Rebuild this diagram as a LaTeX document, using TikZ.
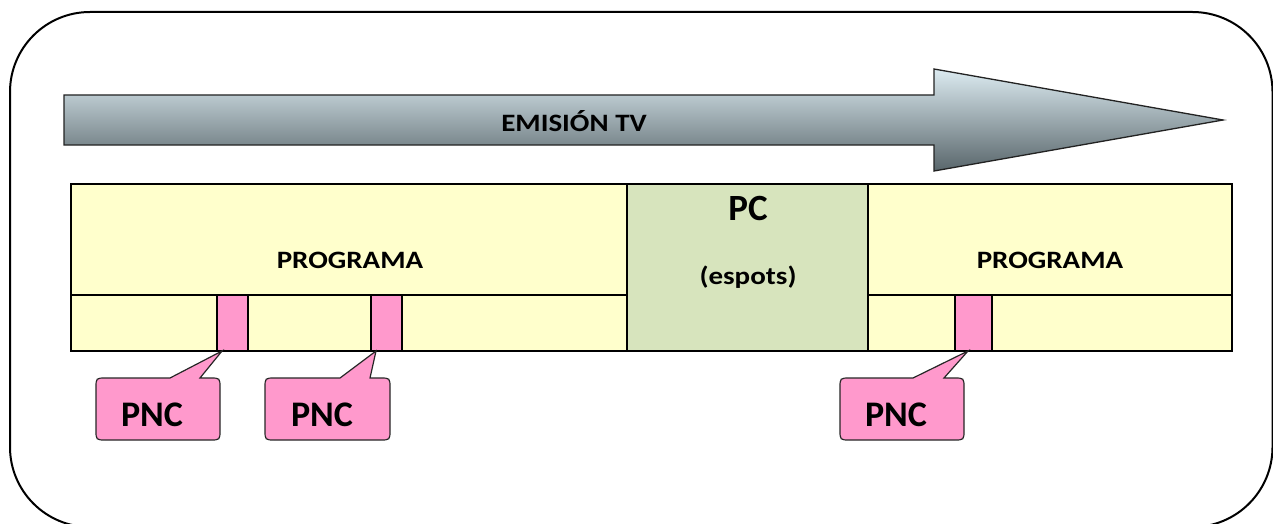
\documentclass[tikz,border=0pt]{standalone}
\usepackage{fontspec}
\setmainfont{Carlito}
\definecolor{progyellow}{HTML}{FFFFCC}
\definecolor{pcgreen}{HTML}{D7E4BD}
\definecolor{pncpink}{HTML}{FF99CC}
\definecolor{arrowtop}{HTML}{DCEBF1}
\definecolor{arrowbot}{HTML}{59666B}
\definecolor{arrowline}{HTML}{222222}
\newcommand{\wide}[1]{\scalebox{1.16}[1]{#1}}
\tikzset{
  band/.style={draw=black, line width=2pt, fill=progyellow, anchor=north west, inner sep=0pt, outer sep=0pt},
  pcbox/.style={band, fill=pcgreen},
  pncbar/.style={band, fill=pncpink},
  callout/.style={draw=black!85, line width=1.2pt, fill=pncpink},
  lbl/.style={font=\bfseries\fontsize{25}{30}\selectfont, text=black, inner sep=0pt},
  pnclbl/.style={lbl, font=\bfseries\fontsize{36}{42}\selectfont},
}
\begin{document}
\begin{tikzpicture}[x=1pt,y=-1pt]
\useasboundingbox (0,0) rectangle (1273,524);
\begin{scope}
\clip (0,0) rectangle (1273,524);
\draw[line width=2pt, rounded corners=80pt] (10,12) rectangle (1272.5,527);
\end{scope}
% big arrow
\shade[top color=arrowtop, bottom color=arrowbot, draw=arrowline, line width=1.3pt]
  (64,95) -- (934,95) -- (934,69) -- (1223,120) -- (934,171) -- (934,145) -- (64,145) -- cycle;
\node[lbl] (emision) at (574,121) {\wide{EMISIÓN TV}};
% band
\node[band, minimum width=556pt, minimum height=111pt] (prog1top) at (71,184) {};
\node[band, minimum width=556pt, minimum height=56pt] (prog1bot) at (71,295) {};
\node[pcbox, minimum width=241pt, minimum height=167pt] (pc) at (627,184) {};
\node[band, minimum width=364pt, minimum height=111pt] (prog2top) at (868,184) {};
\node[band, minimum width=364pt, minimum height=56pt] (prog2bot) at (868,295) {};
\node[pncbar, minimum width=31pt, minimum height=56pt] (p1) at (217,295) {};
\node[pncbar, minimum width=31pt, minimum height=56pt] (p2) at (371,295) {};
\node[pncbar, minimum width=37pt, minimum height=56pt] (p3) at (955,295) {};
\node[lbl] (prog1txt) at (350,260) {\wide{PROGRAMA}};
\node[lbl] (prog2txt) at (1050,260) {\wide{PROGRAMA}};
\node[lbl, font=\bfseries\fontsize{37}{44}\selectfont] (pctxt) at (748,208) {PC};
\node[lbl] (espots) at (748,277) {\wide{(espots)}};
% callouts
\coordinate (t1) at ([xshift=5pt]p1.south west);
\coordinate (t2) at ([xshift=5pt]p2.south west);
\coordinate (t3) at ([xshift=13pt]p3.south west);
\draw[callout] (106,378) -- (170,378) -- (t1) -- (200,378) -- (210,378)
  .. controls (220,378) .. (220,388) -- (220,430) .. controls (220,440) .. (210,440)
  -- (106,440) .. controls (96,440) .. (96,430) -- (96,388) .. controls (96,378) .. cycle;
\draw[callout] (275,378) -- (340,378) -- (t2) -- (370,378) -- (380,378)
  .. controls (390,378) .. (390,388) -- (390,430) .. controls (390,440) .. (380,440)
  -- (275,440) .. controls (265,440) .. (265,430) -- (265,388) .. controls (265,378) .. cycle;
\draw[callout] (850,378) -- (913,378) -- (t3) -- (944,378) -- (954,378)
  .. controls (964,378) .. (964,388) -- (964,430) .. controls (964,440) .. (954,440)
  -- (850,440) .. controls (840,440) .. (840,430) -- (840,388) .. controls (840,378) .. cycle;
\node[pnclbl] (pnc1) at (152,415) {PNC};
\node[pnclbl] (pnc2) at (322,415) {PNC};
\node[pnclbl] (pnc3) at (896,415) {PNC};
\end{tikzpicture}
\end{document}
